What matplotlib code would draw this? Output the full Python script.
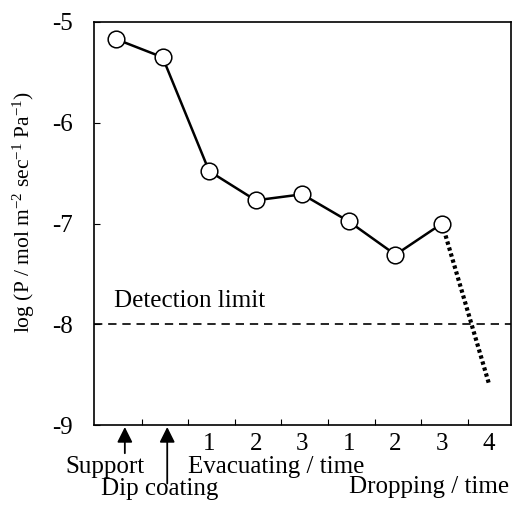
import matplotlib
matplotlib.use("Agg")
import matplotlib.pyplot as plt

# permeance after each treatment step (log scale values)
step_x = [0, 1, 2, 3, 4, 5, 6, 7]
log_p = [-5.17, -5.35, -6.48, -6.77, -6.71, -6.98, -7.31, -7.00]
drop_x = [7, 8]
drop_y = [-7.00, -8.58]
detection_limit = -8.0

tick_pos = [2, 3, 4, 5, 6, 7, 8]
tick_labels = ["1", "2", "3", "1", "2", "3", "4"]
yticks = [-9, -8, -7, -6, -5]

plt.rcParams["font.family"] = ["Liberation Serif", "DejaVu Serif"]
plt.rcParams["mathtext.fontset"] = "custom"
plt.rcParams["mathtext.rm"] = "Liberation Serif"
plt.rcParams["mathtext.it"] = "Liberation Serif:italic"
plt.rcParams["axes.unicode_minus"] = False

fs = 18
fig = plt.figure(figsize=(5.12, 5.05), dpi=100)
ax = fig.add_axes([94 / 512, 1 - 425 / 505, 417 / 512, 403 / 505])

ax.plot(step_x, log_p, color="black", lw=1.8, marker="o", ms=12,
        mfc="white", mec="black", mew=1.1, zorder=3)
ax.plot(drop_x, drop_y, color="black", lw=3.0, ls=(0, (0.8, 0.7)), zorder=2)
ax.axhline(detection_limit, color="black", lw=1.2, dashes=(5, 3.5), zorder=1)
ax.text(-0.05, detection_limit + 0.12, "Detection limit", fontsize=fs,
        ha="left", va="bottom")

ax.set_xlim(-0.472, 8.48)
ax.set_ylim(-9, -5)
ax.set_yticks(yticks)
ax.set_yticklabels([str(v) for v in yticks])
ax.set_xticks(tick_pos)
ax.set_xticklabels(tick_labels)
ax.set_xticks([i + 0.55 for i in range(8)], minor=True)
ax.tick_params(axis="x", which="major", length=0, pad=6, labelsize=fs)
ax.tick_params(axis="x", which="minor", direction="in", length=4, width=0.8)
ax.tick_params(axis="y", direction="in", length=4, width=0.8, pad=15, labelsize=fs)
for sp in ax.spines.values():
    sp.set_linewidth(1.2)

ax.set_ylabel("log (P / mol m$^{-2}$ sec$^{-1}$ Pa$^{-1}$)", fontsize=15.5)
ax.yaxis.set_label_coords(-0.137, 0.528)

# arrows marking the support and the dip-coated membrane
arrow = dict(arrowstyle="-|>", color="black", lw=1.3, mutation_scale=23,
             shrinkA=0, shrinkB=0)
ax.annotate("", xy=(0.19, -9.02), xytext=(0.19, -9.28), arrowprops=arrow,
            annotation_clip=False)
ax.annotate("", xy=(1.10, -9.02), xytext=(1.10, -9.58), arrowprops=arrow,
            annotation_clip=False)

ax.text(-0.24, -9.42, "Support", fontsize=fs, ha="center", va="center", clip_on=False)
ax.text(0.945, -9.64, "Dip coating", fontsize=fs, ha="center", va="center", clip_on=False)
ax.text(3.44, -9.42, "Evacuating / time", fontsize=fs, ha="center", va="center", clip_on=False)
ax.text(6.72, -9.62, "Dropping / time", fontsize=fs, ha="center", va="center", clip_on=False)

fig.savefig("out.png", dpi=100)
